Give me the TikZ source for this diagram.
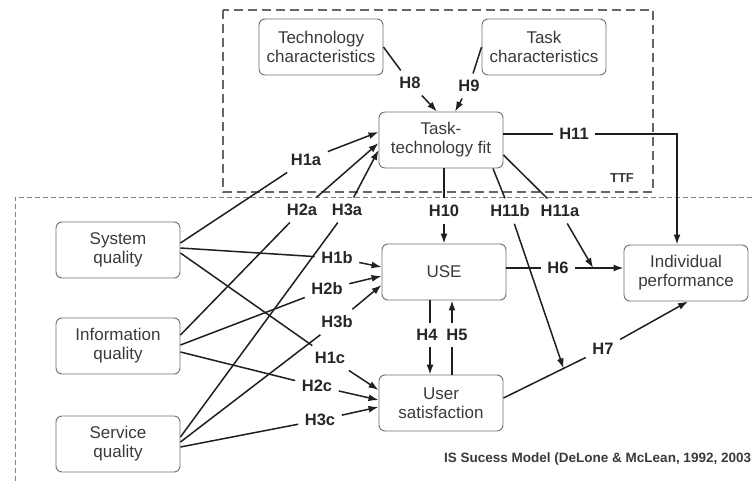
\documentclass[tikz,border=0pt]{standalone}
\usepackage{fontspec}
\setmainfont{Liberation Sans}
\usetikzlibrary{arrows.meta,calc}
\definecolor{boxline}{HTML}{6E6E6E}
\definecolor{txt}{HTML}{3A3A3A}
\definecolor{dashline}{HTML}{666666}
\tikzset{
  box/.style={draw=boxline, line width=0.9pt, rounded corners=6pt,
    minimum width=124pt, minimum height=56pt, inner sep=0pt, align=center,
    font=\fontsize{17}{19}\selectfont, text=txt},
  hyp/.style={font=\bfseries\fontsize{16.5}{19}\selectfont, text=black!85, inner sep=6.5pt},
  link/.style={line width=1.5pt, draw=black!88},
  arr/.style={link, -{Latex[length=10pt,width=7pt]}},
  groupframe/.style={draw=dashline, line width=1.1pt, dash pattern=on 9pt off 5pt},
  outerframe/.style={draw=gray, line width=0.9pt, dash pattern=on 5pt off 3pt},
}
\begin{document}
\begin{tikzpicture}[x=1pt,y=-1pt]
\useasboundingbox (0,0) rectangle (752,480);

% group frames
\draw[groupframe] (223,10) rectangle (653,192);
\draw[outerframe] (760,197) -- (15,197) -- (15,490);

% constructs
\node[box] (tech)  at (321,47)  {Technology\\characteristics};
\node[box] (task)  at (544,47)  {Task\\characteristics};
\node[box] (ttf)   at (441,140) {Task-\\technology fit};
\node[box] (sys)   at (118,250) {System\\quality};
\node[box] (info)  at (118,346) {Information\\quality};
\node[box] (serv)  at (118,444) {Service\\quality};
\node[box] (use)   at (444,272) {USE};
\node[box] (usat)  at (441,403) {User\\satisfaction};
\node[box] (indiv) at (686,273) {Individual\\performance};

% hypothesis labels
\node[hyp] (h8)   at (410,83)  {H8};
\node[hyp] (h9)   at (469,86)  {H9};
\node[hyp] (h1a)  at (306,160) {H1a};
\node[hyp] (h11)  at (574,134) {H11};
\node[hyp] (h2a)  at (302,210) {H2a};
\node[hyp] (h3a)  at (347,210) {H3a};
\node[hyp] (h10)  at (444,211) {H10};
\node[hyp] (h11b) at (510,211) {H11b};
\node[hyp] (h11a) at (560,211) {H11a};
\node[hyp] (h1b)  at (337,258) {H1b};
\node[hyp] (h2b)  at (327,289) {H2b};
\node[hyp] (h3b)  at (337,322) {H3b};
\node[hyp] (h1c)  at (330,358) {H1c};
\node[hyp] (h2c)  at (317,386) {H2c};
\node[hyp] (h3c)  at (320,420) {H3c};
\node[hyp] (h6)   at (558,268) {H6};
\node[hyp] (h4)   at (427,335) {H4};
\node[hyp] (h5)   at (457,335) {H5};
\node[hyp] (h7)   at (603,349) {H7};

\node[font=\bfseries\fontsize{13}{15}\selectfont, text=txt] (ttflbl) at (622,178) {TTF};
\node[anchor=west, inner sep=0pt, font=\bfseries\fontsize{13.5}{16}\selectfont, text=txt]
  (source) at (444,459) {IS Sucess Model (DeLone \& McLean, 1992, 2003};

% TTF antecedents
\draw[link] (tech.east) -- (h8);
\draw[arr]  (h8) -- ([xshift=-4pt]ttf.north);
\draw[link] (task.west) -- (h9);
\draw[arr]  (h9) -- ([xshift=14pt]ttf.north);

% quality dimensions -> TTF
\draw[link] ([yshift=7pt]sys.east) -- (h1a);
\draw[arr]  (h1a) -- ([yshift=8pt]ttf.west);
\draw[link] ([yshift=11pt]info.east) -- (h2a);
\draw[arr]  (h2a) -- ([yshift=-3pt]ttf.west);
\draw[link] ([yshift=7pt]serv.east) -- (h3a);
\draw[arr]  (h3a) -- ([yshift=-10pt]ttf.west);

% quality dimensions -> USE
\draw[link] ([yshift=2pt]sys.east) -- (h1b);
\draw[arr]  (h1b) -- ([yshift=5pt]use.west);
\draw[link] ([yshift=1pt]info.east) -- (h2b);
\draw[arr]  (h2b) -- ([yshift=-4pt]use.west);
\draw[link] ([yshift=2pt]serv.east) -- (h3b);
\draw[arr]  (h3b) -- ([yshift=-13pt]use.west);

% quality dimensions -> user satisfaction
\draw[link] ([yshift=-3pt]sys.east) -- (h1c);
\draw[arr]  (h1c) -- ([yshift=13pt]usat.west);
\draw[link] ([yshift=-6pt]info.east) -- (h2c);
\draw[arr]  (h2c) -- ([yshift=3pt]usat.west);
\draw[link] ([yshift=-3pt]serv.east) -- (h3c);
\draw[arr]  (h3c) -- ([yshift=-4pt]usat.west);

% USE <-> user satisfaction
\draw[link] ([xshift=-14pt]use.south) -- ([xshift=-14pt]use.south |- h4.north);
\draw[arr]  ([xshift=-14pt]use.south |- h4.south) -- ([xshift=-11pt]usat.north);
\draw[link] ([xshift=11pt]usat.north) -- ([xshift=11pt]usat.north |- h5.south);
\draw[arr]  ([xshift=8pt]use.south |- h5.north) -- ([xshift=8pt]use.south);

% outcomes
\draw[link] ([yshift=4pt]use.east) -- (h6);
\draw[arr]  (h6) -- coordinate[pos=0.37] (h6mid) ([yshift=5pt]indiv.west);
\draw[link] ([yshift=5pt]usat.east) -- coordinate[pos=0.73] (h7mid) (h7);
\draw[arr]  (h7) -- ([xshift=2pt]indiv.south);

% TTF consequences
\draw[link] ([xshift=3pt]ttf.south) -- (h10);
\draw[arr]  (h10) -- (use.north);
\draw[link] ([yshift=6pt]ttf.east) -- (h11);
\draw[arr]  (h11) -| ([xshift=-9pt]indiv.north);
\draw[link] ([xshift=52pt]ttf.south) -- (h11b);
\draw[arr]  (h11b) -- (h7mid);
\draw[link] ([yshift=-15pt]ttf.east) -- (h11a);
\draw[arr]  (h11a) -- (h6mid);
\end{tikzpicture}
\end{document}
